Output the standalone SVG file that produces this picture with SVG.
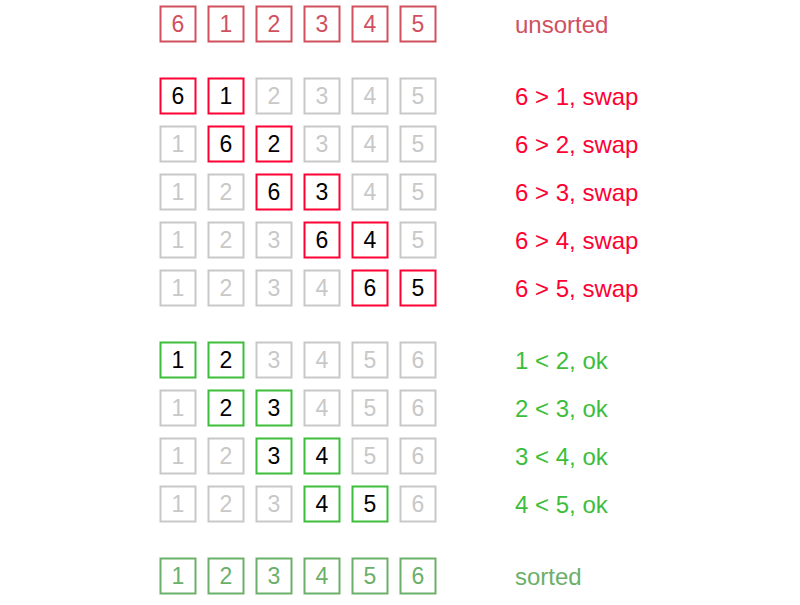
<svg xmlns="http://www.w3.org/2000/svg" width="800" height="605" viewBox="0 0 800 605">
<style>
rect{fill:#fff;stroke-width:2}
text{font-family:"Liberation Sans",Arial,sans-serif}
.d{font-size:23px;text-anchor:middle}
.l{font-size:24px}
.u rect{stroke:#d0505f}.u text{fill:#d0505f}
.g rect{stroke:#c8c8c8}.g text{fill:#c8c8c8}
.r rect{stroke:#ff0033}.r text{fill:#000}
.a rect{stroke:#3cbe3c}.a text{fill:#000}
.s rect{stroke:#6aaf6a}.s text{fill:#6aaf6a}
.lu{fill:#d0505f}.lr{fill:#ff0033}.la{fill:#3cbe3c}.ls{fill:#6aaf6a}
</style>
<rect x="0" y="0" width="800" height="605" style="stroke:none;fill:#fff"/>
<g id="row0">
<g class="u"><rect x="160.5" y="6.5" width="35" height="35"/><text class="d" x="178" y="32">6</text></g>
<g class="u"><rect x="208.5" y="6.5" width="35" height="35"/><text class="d" x="226" y="32">1</text></g>
<g class="u"><rect x="256.5" y="6.5" width="35" height="35"/><text class="d" x="274" y="32">2</text></g>
<g class="u"><rect x="304.5" y="6.5" width="35" height="35"/><text class="d" x="322" y="32">3</text></g>
<g class="u"><rect x="352.5" y="6.5" width="35" height="35"/><text class="d" x="370" y="32">4</text></g>
<g class="u"><rect x="400.5" y="6.5" width="35" height="35"/><text class="d" x="418" y="32">5</text></g>
<text class="l lu" x="515" y="32.5">unsorted</text>
</g>
<g id="row1">
<g class="r"><rect x="160.5" y="78.5" width="35" height="35"/><text class="d" x="178" y="104">6</text></g>
<g class="r"><rect x="208.5" y="78.5" width="35" height="35"/><text class="d" x="226" y="104">1</text></g>
<g class="g"><rect x="256.5" y="78.5" width="35" height="35"/><text class="d" x="274" y="104">2</text></g>
<g class="g"><rect x="304.5" y="78.5" width="35" height="35"/><text class="d" x="322" y="104">3</text></g>
<g class="g"><rect x="352.5" y="78.5" width="35" height="35"/><text class="d" x="370" y="104">4</text></g>
<g class="g"><rect x="400.5" y="78.5" width="35" height="35"/><text class="d" x="418" y="104">5</text></g>
<text class="l lr" x="515" y="104.5">6 &gt; 1, swap</text>
</g>
<g id="row2">
<g class="g"><rect x="160.5" y="126.5" width="35" height="35"/><text class="d" x="178" y="152">1</text></g>
<g class="r"><rect x="208.5" y="126.5" width="35" height="35"/><text class="d" x="226" y="152">6</text></g>
<g class="r"><rect x="256.5" y="126.5" width="35" height="35"/><text class="d" x="274" y="152">2</text></g>
<g class="g"><rect x="304.5" y="126.5" width="35" height="35"/><text class="d" x="322" y="152">3</text></g>
<g class="g"><rect x="352.5" y="126.5" width="35" height="35"/><text class="d" x="370" y="152">4</text></g>
<g class="g"><rect x="400.5" y="126.5" width="35" height="35"/><text class="d" x="418" y="152">5</text></g>
<text class="l lr" x="515" y="152.5">6 &gt; 2, swap</text>
</g>
<g id="row3">
<g class="g"><rect x="160.5" y="174.5" width="35" height="35"/><text class="d" x="178" y="200">1</text></g>
<g class="g"><rect x="208.5" y="174.5" width="35" height="35"/><text class="d" x="226" y="200">2</text></g>
<g class="r"><rect x="256.5" y="174.5" width="35" height="35"/><text class="d" x="274" y="200">6</text></g>
<g class="r"><rect x="304.5" y="174.5" width="35" height="35"/><text class="d" x="322" y="200">3</text></g>
<g class="g"><rect x="352.5" y="174.5" width="35" height="35"/><text class="d" x="370" y="200">4</text></g>
<g class="g"><rect x="400.5" y="174.5" width="35" height="35"/><text class="d" x="418" y="200">5</text></g>
<text class="l lr" x="515" y="200.5">6 &gt; 3, swap</text>
</g>
<g id="row4">
<g class="g"><rect x="160.5" y="222.5" width="35" height="35"/><text class="d" x="178" y="248">1</text></g>
<g class="g"><rect x="208.5" y="222.5" width="35" height="35"/><text class="d" x="226" y="248">2</text></g>
<g class="g"><rect x="256.5" y="222.5" width="35" height="35"/><text class="d" x="274" y="248">3</text></g>
<g class="r"><rect x="304.5" y="222.5" width="35" height="35"/><text class="d" x="322" y="248">6</text></g>
<g class="r"><rect x="352.5" y="222.5" width="35" height="35"/><text class="d" x="370" y="248">4</text></g>
<g class="g"><rect x="400.5" y="222.5" width="35" height="35"/><text class="d" x="418" y="248">5</text></g>
<text class="l lr" x="515" y="248.5">6 &gt; 4, swap</text>
</g>
<g id="row5">
<g class="g"><rect x="160.5" y="270.5" width="35" height="35"/><text class="d" x="178" y="296">1</text></g>
<g class="g"><rect x="208.5" y="270.5" width="35" height="35"/><text class="d" x="226" y="296">2</text></g>
<g class="g"><rect x="256.5" y="270.5" width="35" height="35"/><text class="d" x="274" y="296">3</text></g>
<g class="g"><rect x="304.5" y="270.5" width="35" height="35"/><text class="d" x="322" y="296">4</text></g>
<g class="r"><rect x="352.5" y="270.5" width="35" height="35"/><text class="d" x="370" y="296">6</text></g>
<g class="r"><rect x="400.5" y="270.5" width="35" height="35"/><text class="d" x="418" y="296">5</text></g>
<text class="l lr" x="515" y="296.5">6 &gt; 5, swap</text>
</g>
<g id="row6">
<g class="a"><rect x="160.5" y="342.5" width="35" height="35"/><text class="d" x="178" y="368">1</text></g>
<g class="a"><rect x="208.5" y="342.5" width="35" height="35"/><text class="d" x="226" y="368">2</text></g>
<g class="g"><rect x="256.5" y="342.5" width="35" height="35"/><text class="d" x="274" y="368">3</text></g>
<g class="g"><rect x="304.5" y="342.5" width="35" height="35"/><text class="d" x="322" y="368">4</text></g>
<g class="g"><rect x="352.5" y="342.5" width="35" height="35"/><text class="d" x="370" y="368">5</text></g>
<g class="g"><rect x="400.5" y="342.5" width="35" height="35"/><text class="d" x="418" y="368">6</text></g>
<text class="l la" x="515" y="368.5">1 &lt; 2, ok</text>
</g>
<g id="row7">
<g class="g"><rect x="160.5" y="390.5" width="35" height="35"/><text class="d" x="178" y="416">1</text></g>
<g class="a"><rect x="208.5" y="390.5" width="35" height="35"/><text class="d" x="226" y="416">2</text></g>
<g class="a"><rect x="256.5" y="390.5" width="35" height="35"/><text class="d" x="274" y="416">3</text></g>
<g class="g"><rect x="304.5" y="390.5" width="35" height="35"/><text class="d" x="322" y="416">4</text></g>
<g class="g"><rect x="352.5" y="390.5" width="35" height="35"/><text class="d" x="370" y="416">5</text></g>
<g class="g"><rect x="400.5" y="390.5" width="35" height="35"/><text class="d" x="418" y="416">6</text></g>
<text class="l la" x="515" y="416.5">2 &lt; 3, ok</text>
</g>
<g id="row8">
<g class="g"><rect x="160.5" y="438.5" width="35" height="35"/><text class="d" x="178" y="464">1</text></g>
<g class="g"><rect x="208.5" y="438.5" width="35" height="35"/><text class="d" x="226" y="464">2</text></g>
<g class="a"><rect x="256.5" y="438.5" width="35" height="35"/><text class="d" x="274" y="464">3</text></g>
<g class="a"><rect x="304.5" y="438.5" width="35" height="35"/><text class="d" x="322" y="464">4</text></g>
<g class="g"><rect x="352.5" y="438.5" width="35" height="35"/><text class="d" x="370" y="464">5</text></g>
<g class="g"><rect x="400.5" y="438.5" width="35" height="35"/><text class="d" x="418" y="464">6</text></g>
<text class="l la" x="515" y="464.5">3 &lt; 4, ok</text>
</g>
<g id="row9">
<g class="g"><rect x="160.5" y="486.5" width="35" height="35"/><text class="d" x="178" y="512">1</text></g>
<g class="g"><rect x="208.5" y="486.5" width="35" height="35"/><text class="d" x="226" y="512">2</text></g>
<g class="g"><rect x="256.5" y="486.5" width="35" height="35"/><text class="d" x="274" y="512">3</text></g>
<g class="a"><rect x="304.5" y="486.5" width="35" height="35"/><text class="d" x="322" y="512">4</text></g>
<g class="a"><rect x="352.5" y="486.5" width="35" height="35"/><text class="d" x="370" y="512">5</text></g>
<g class="g"><rect x="400.5" y="486.5" width="35" height="35"/><text class="d" x="418" y="512">6</text></g>
<text class="l la" x="515" y="512.5">4 &lt; 5, ok</text>
</g>
<g id="row10">
<g class="s"><rect x="160.5" y="558.5" width="35" height="35"/><text class="d" x="178" y="584">1</text></g>
<g class="s"><rect x="208.5" y="558.5" width="35" height="35"/><text class="d" x="226" y="584">2</text></g>
<g class="s"><rect x="256.5" y="558.5" width="35" height="35"/><text class="d" x="274" y="584">3</text></g>
<g class="s"><rect x="304.5" y="558.5" width="35" height="35"/><text class="d" x="322" y="584">4</text></g>
<g class="s"><rect x="352.5" y="558.5" width="35" height="35"/><text class="d" x="370" y="584">5</text></g>
<g class="s"><rect x="400.5" y="558.5" width="35" height="35"/><text class="d" x="418" y="584">6</text></g>
<text class="l ls" x="515" y="584.5">sorted</text>
</g>
<g id="connectors"/>
</svg>
